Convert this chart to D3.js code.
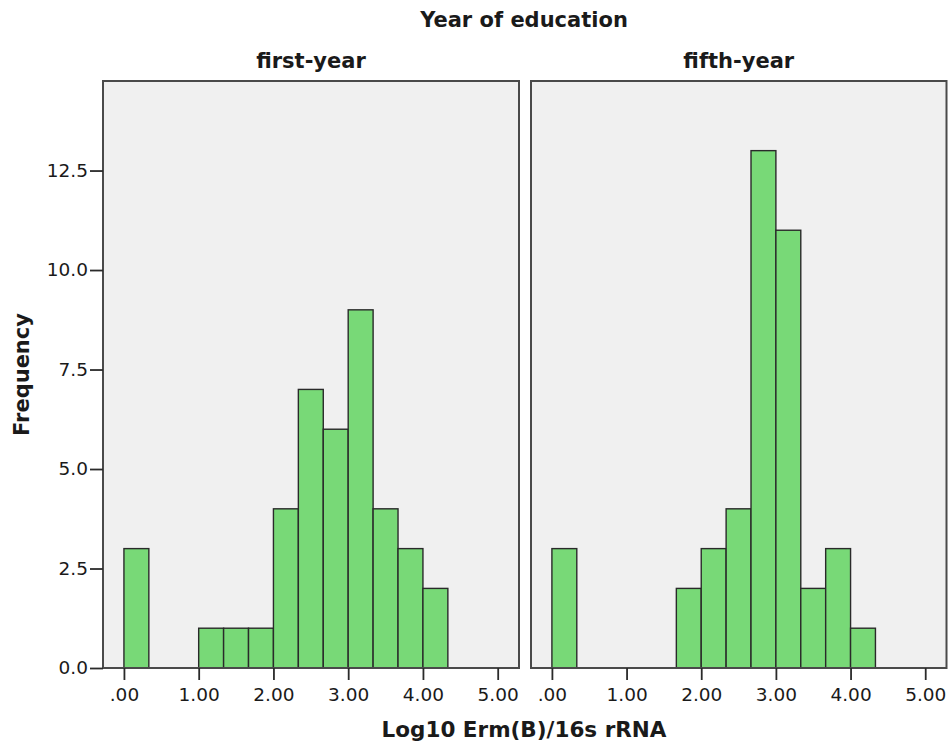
<!DOCTYPE html>
<html>
<head>
<meta charset="utf-8">
<script src="https://cdn.jsdelivr.net/npm/d3@7"></script>
<style>
  html, body { margin: 0; padding: 0; background: #ffffff; }
  svg { display: block; }
  text { font-family: "DejaVu Sans", sans-serif; fill: #1a1a1a; }
</style>
</head>
<body>
<svg id="chart" width="949" height="746"></svg>
<script>
// Histogram bins: lower edges (log10 units), each bin one third wide
const binStarts = [0, 1/3, 2/3, 1, 4/3, 5/3, 2, 7/3, 8/3, 3, 10/3, 11/3, 4];
const binWidth = 1/3;

// Counts per bin for each year group
const firstYear = [3, 0, 0, 1, 1, 1, 4, 7, 6, 9, 4, 3, 2];
const fifthYear = [3, 0, 0, 0, 0, 2, 3, 4, 13, 11, 2, 3, 1];

const panelNames = ["first-year", "fifth-year"];
const xTicks = [0, 1, 2, 3, 4, 5];
const yTicks = [0, 2.5, 5, 7.5, 10, 12.5];

const chartTitle = "Year of education";
const xTitle = "Log10 Erm(B)/16s rRNA";
const yTitle = "Frequency";

const svg = d3.select("#chart");

const plotTop = 81, plotBottom = 668;
const panels = [
  { name: panelNames[0], counts: firstYear, left: 103, right: 519 },
  { name: panelNames[1], counts: fifthYear, left: 531, right: 946.5 }
];

const y = d3.scaleLinear().domain([0, 14.75]).range([plotBottom, plotTop]);
const xFmt = v => v === 0 ? ".00" : d3.format(".2f")(v);

panels.forEach((p, i) => {
  const x = d3.scaleLinear().domain([-0.28, 5.285]).range([p.left, p.right]);
  const g = svg.append("g");

  // panel background
  g.append("rect")
    .attr("x", p.left).attr("y", plotTop)
    .attr("width", p.right - p.left).attr("height", plotBottom - plotTop)
    .attr("fill", "#f0f0f0");

  // bars
  const bins = binStarts.map((s, k) => ({ x0: s, x1: s + binWidth, n: p.counts[k] }))
    .filter(d => d.n > 0);
  g.selectAll("rect.bar").data(bins).join("rect")
    .attr("class", "bar")
    .attr("x", d => x(d.x0))
    .attr("y", d => y(d.n))
    .attr("width", d => x(d.x1) - x(d.x0))
    .attr("height", d => y(0) - y(d.n))
    .attr("fill", "#78d977")
    .attr("stroke", "#2a2a2a")
    .attr("stroke-width", 1.4);

  // panel frame
  g.append("rect")
    .attr("x", p.left).attr("y", plotTop)
    .attr("width", p.right - p.left).attr("height", plotBottom - plotTop)
    .attr("fill", "none")
    .attr("stroke", "#4a4a4a")
    .attr("stroke-width", 2);

  // x axis
  const xAxis = g.append("g")
    .attr("transform", `translate(0,${plotBottom})`)
    .call(d3.axisBottom(x).tickValues(xTicks).tickFormat(xFmt).tickSize(12).tickPadding(8));
  xAxis.select(".domain").remove();
  xAxis.selectAll(".tick line").attr("stroke", "#2a2a2a").attr("stroke-width", 1.8);
  xAxis.selectAll(".tick text")
    .attr("font-family", "DejaVu Sans, sans-serif")
    .attr("font-size", 18.5)
    .attr("fill", "#1a1a1a");

  // y axis on the first panel only
  if (i === 0) {
    const yAxis = g.append("g")
      .attr("transform", `translate(${p.left},0)`)
      .call(d3.axisLeft(y).tickValues(yTicks).tickFormat(d3.format(".1f")).tickSize(13).tickPadding(2));
    yAxis.select(".domain").remove();
    yAxis.selectAll(".tick line").attr("stroke", "#2a2a2a").attr("stroke-width", 1.8);
    yAxis.selectAll(".tick text")
      .attr("font-family", "DejaVu Sans, sans-serif")
      .attr("font-size", 18.5)
      .attr("fill", "#1a1a1a");
  }

  // panel title
  svg.append("text")
    .attr("x", (p.left + p.right) / 2)
    .attr("y", 68)
    .attr("text-anchor", "middle")
    .attr("font-size", 21)
    .attr("font-weight", "bold")
    .text(p.name);
});

// overall titles
svg.append("text")
  .attr("x", 524).attr("y", 27)
  .attr("text-anchor", "middle")
  .attr("font-size", 21).attr("font-weight", "bold")
  .text(chartTitle);

svg.append("text")
  .attr("x", 524).attr("y", 737)
  .attr("text-anchor", "middle")
  .attr("font-size", 21.5).attr("font-weight", "bold")
  .text(xTitle);

svg.append("text")
  .attr("transform", `translate(29,${(plotTop + plotBottom) / 2}) rotate(-90)`)
  .attr("text-anchor", "middle")
  .attr("font-size", 21).attr("font-weight", "bold")
  .text(yTitle);
</script>
</body>
</html>
